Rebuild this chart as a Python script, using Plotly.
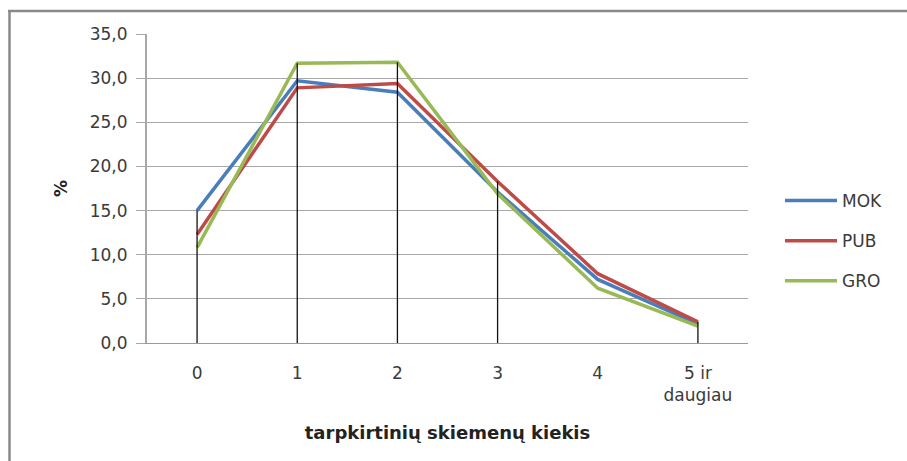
import plotly.graph_objects as go

# Share (%) by number of inter-syllable splits
categories = ["0", "1", "2", "3", "4", "5 ir<br>daugiau"]
mok = [15.0, 29.7, 28.4, 17.1, 7.2, 2.15]
pub = [12.3, 28.9, 29.4, 18.3, 7.85, 2.4]
gro = [10.8, 31.7, 31.8, 16.9, 6.2, 1.9]
# categories that carry a vertical drop line from the highest series to zero
drop_idx = [0, 1, 2, 3, 5]

y_ticks = [0, 5, 10, 15, 20, 25, 30, 35]
y_tick_text = ["0,0", "5,0", "10,0", "15,0", "20,0", "25,0", "30,0", "35,0"]

FONT = "DejaVu Sans"
TXT = "#3a3a3a"

W, H = 907, 461
L, R, T, B = 147, 159, 34, 118
PW, PH = W - L - R, H - T - B

fig = go.Figure()

series = [("MOK", mok, "#4A7EBB"), ("PUB", pub, "#BE4B48"), ("GRO", gro, "#98B954")]
for name, vals, col in series:
    fig.add_trace(go.Scatter(
        x=list(range(len(categories))), y=vals, name=name, mode="lines",
        line=dict(color=col, width=3.5), legendgroup=name,
    ))

# drop lines
dx, dy = [], []
for i in drop_idx:
    top = max(mok[i], pub[i], gro[i])
    dx += [i, i, None]
    dy += [0, top, None]
fig.add_trace(go.Scatter(x=dx, y=dy, mode="lines", showlegend=False,
                         line=dict(color="#111111", width=1.3), hoverinfo="skip"))

# outer frame (left and top edges)
fx = lambda px: (px - L) / PW
fy = lambda py: 1 - (py - T) / PH
fig.add_shape(type="line", xref="paper", yref="paper",
              x0=fx(9.5), x1=fx(9.5), y0=fy(11), y1=fy(470),
              line=dict(color="#8a8a8a", width=2.5))
fig.add_shape(type="line", xref="paper", yref="paper",
              x0=fx(8), x1=fx(910), y0=fy(11), y1=fy(11),
              line=dict(color="#8a8a8a", width=2.5))

fig.update_layout(
    width=W, height=H,
    margin=dict(l=L, r=R, t=T, b=B, pad=0),
    paper_bgcolor="white", plot_bgcolor="white",
    font=dict(family=FONT, size=17, color=TXT),
    showlegend=True,
    legend=dict(x=fx(780), y=fy(183), xanchor="left", yanchor="top",
                traceorder="grouped", tracegroupgap=15,
                font=dict(family=FONT, size=17, color=TXT),
                bgcolor="rgba(0,0,0,0)", itemwidth=52),
    xaxis=dict(
        range=[-0.5, 5.5], tickmode="array",
        tickvals=list(range(len(categories))), ticktext=categories,
        showgrid=False, zeroline=False, showline=True,
        linecolor="#9a9a9a", linewidth=1.2, ticks="",
        ticklabelstandoff=14,
        tickfont=dict(family=FONT, size=17, color=TXT),
        title=dict(text="<b>tarpkirtinių skiemenų kiekis</b>",
                   font=dict(family=FONT, size=18, color="#222"), standoff=22),
    ),
    yaxis=dict(
        range=[0, 35], tickmode="array", tickvals=y_ticks, ticktext=y_tick_text,
        showgrid=True, gridcolor="#a8a8a8", gridwidth=1,
        zeroline=False, showline=True, linecolor="#a8a8a8", linewidth=2,
        ticks="outside", ticklen=9, tickcolor="#a8a8a8", tickwidth=1,
        ticklabelstandoff=5,
        tickfont=dict(family=FONT, size=17, color=TXT),
        title=dict(text="<b>%</b>", font=dict(family=FONT, size=17, color="#222"),
                   standoff=18),
    ),
)

fig.write_html("out.html")
